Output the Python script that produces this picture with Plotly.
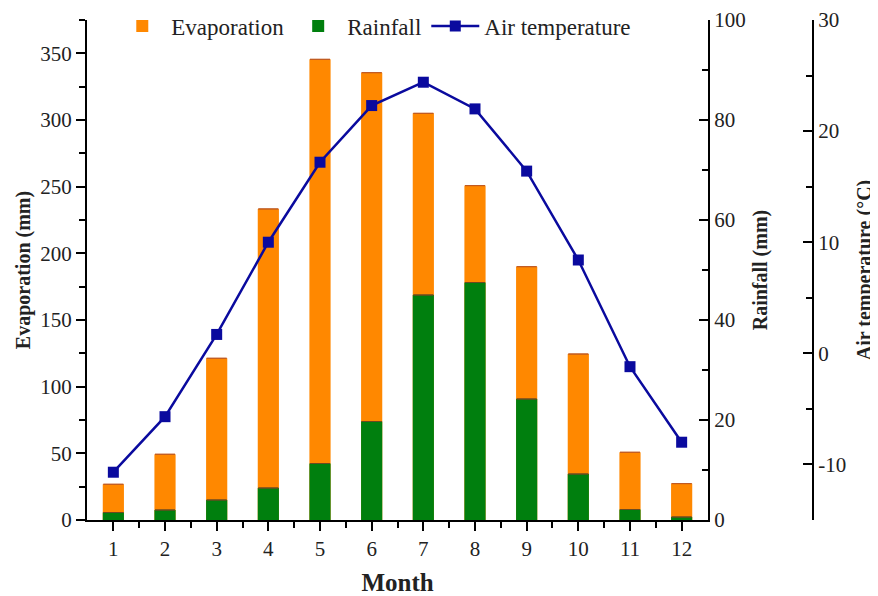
import plotly.graph_objects as go

months = [1, 2, 3, 4, 5, 6, 7, 8, 9, 10, 11, 12]
evaporation = [26.8, 49.3, 121.3, 233.3, 345.5, 335.5, 305.0, 250.8, 190.0, 124.5, 50.8, 27.3]
rainfall = [1.5, 2.0, 4.0, 6.4, 11.3, 19.7, 45.0, 47.5, 24.2, 9.2, 2.1, 0.6]
temperature = [-10.7, -5.7, 1.7, 10.0, 17.2, 22.3, 24.4, 22.0, 16.4, 8.4, -1.2, -8.0]
temp_ticks = [-10, 0, 10, 20, 30]
temp_ticklabels = ["-10", "0", "10", "20", "30"]

FONT = "Liberation Serif, Times New Roman, serif"
ORANGE = "#FF8800"
GREEN = "#007F0E"
BLUE = "#0A0A9E"

fig = go.Figure()
fig.add_trace(go.Bar(
    x=months, y=evaporation, name="Evaporation", width=0.41,
    marker=dict(color=ORANGE, line=dict(width=0)),
    error_y=dict(type="data", array=[0] * 12, visible=True, color="#C05A20", thickness=1, width=10),
    yaxis="y",
))
fig.add_trace(go.Bar(
    x=months, y=rainfall, name="Rainfall", width=0.41,
    marker=dict(color=GREEN, line=dict(width=0)),
    error_y=dict(type="data", array=[0] * 12, visible=True, color="#6A4A20", thickness=1, width=10),
    yaxis="y2",
))
fig.add_trace(go.Scatter(
    x=months, y=temperature, name="Air temperature", mode="lines+markers",
    line=dict(color=BLUE, width=2.5),
    marker=dict(symbol="square", size=11, color=BLUE),
    yaxis="y3",
))

# page body has an 8px default margin, so the figure is offset by 8px
OFF = 8
W, H = 878 - OFF, 596 - OFF
L, R, T = 87 - OFF, 40, 20 - OFF
B = H - (520 - OFF)
pw = W - L - R
x_end = (708 - OFF - L) / pw
temp_pos = (813 - OFF - L) / pw

axis_common = dict(
    showline=True, linecolor="black", linewidth=2,
    tickcolor="black", tickwidth=2, ticklen=9,
    tickfont=dict(family=FONT, size=21, color="#222"),
    showgrid=False, zeroline=False, automargin=False,
)

fig.update_layout(
    width=W, height=H,
    margin=dict(l=L, r=R, t=T, b=B, autoexpand=False),
    paper_bgcolor="white", plot_bgcolor="white",
    barmode="overlay",
    font=dict(family=FONT, color="#222"),
    showlegend=True,
    legend=dict(
        orientation="h", x=0.035, xanchor="left", y=0.988, yanchor="middle",
        font=dict(family=FONT, size=23, color="#222"),
        bgcolor="rgba(0,0,0,0)", itemwidth=48, tracegroupgap=0,
    ),
    xaxis=dict(
        domain=[0, x_end], range=[0.49, 12.51],
        tickmode="array", tickvals=months, ticktext=[str(m) for m in months],
        ticks="outside",
        minor=dict(tickvals=[m + 0.5 for m in months[:-1]], ticks="outside", ticklen=6, tickwidth=2, tickcolor="black"),
        title=dict(text="Month", font=dict(family=FONT, size=25, weight="bold", color="#222"), standoff=15),
        anchor="y",
        **axis_common,
    ),
    yaxis=dict(
        range=[0, 375], dtick=50, tick0=0, ticks="outside",
        minor=dict(dtick=25, ticks="outside", ticklen=6, tickwidth=2, tickcolor="black"),
        title=dict(text="Evaporation (mm)", font=dict(family=FONT, size=20, weight="bold", color="#222"), standoff=4),
        anchor="x",
        **axis_common,
    ),
    yaxis2=dict(
        range=[0, 100], dtick=20, tick0=0, ticks="inside", side="right",
        overlaying="y", anchor="x",
        minor=dict(dtick=10, ticks="inside", ticklen=6, tickwidth=2, tickcolor="black"),
        title=dict(text="Rainfall (mm)", font=dict(family=FONT, size=20, weight="bold", color="#222"), standoff=8),
        **axis_common,
    ),
    yaxis3=dict(
        range=[-15, 30], tickmode="array", tickvals=temp_ticks, ticktext=temp_ticklabels,
        ticks="inside", side="right",
        overlaying="y", anchor="free", position=temp_pos,
        minor=dict(dtick=5, ticks="inside", ticklen=6, tickwidth=2, tickcolor="black"),
        title=dict(text="Air temperature (°C)", font=dict(family=FONT, size=20, weight="bold", color="#222"), standoff=11),
        **axis_common,
    ),
)

fig.write_html("out.html")
